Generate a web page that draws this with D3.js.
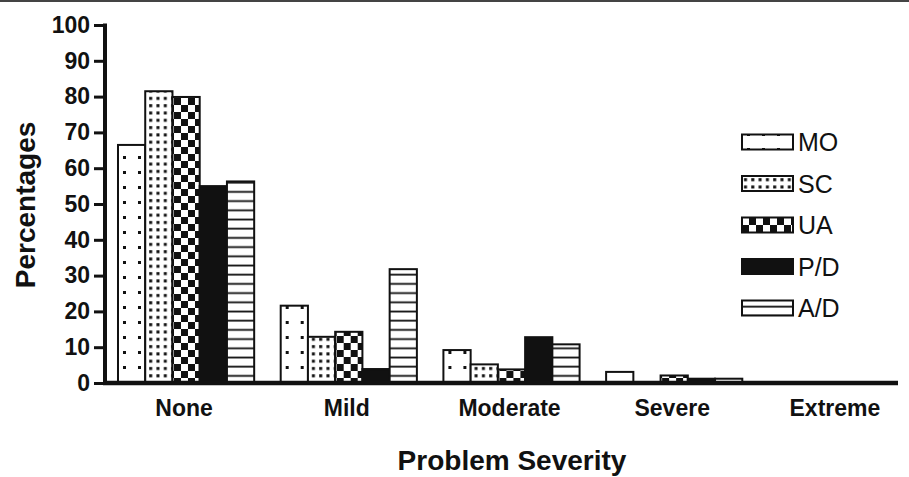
<!DOCTYPE html>
<html>
<head>
<meta charset="utf-8">
<script src="https://cdn.jsdelivr.net/npm/d3@7"></script>
<style>
  html, body { margin: 0; padding: 0; background: #fff; }
  svg { display: block; }
  text { font-family: "Liberation Sans", Arial, Helvetica, sans-serif; fill: #111; }
</style>
</head>
<body>
<svg id="chart" width="909" height="477"></svg>
<script>
// Problem severity categories and group percentages
const categories = ["None", "Mild", "Moderate", "Severe", "Extreme"];
const seriesNames = ["MO", "SC", "UA", "P/D", "A/D"];
const valuesMO = [66.5, 21.6, 9.2, 3.1, 0];
const valuesSC = [81.5, 12.9, 5.2, 0, 0];
const valuesUA = [79.9, 14.3, 3.8, 2.1, 0];
const valuesPD = [55.0, 3.9, 12.8, 1.2, 0];
const valuesAD = [56.3, 31.8, 10.8, 1.2, 0];
const yTicks = [0, 10, 20, 30, 40, 50, 60, 70, 80, 90, 100];

const seriesValues = [valuesMO, valuesSC, valuesUA, valuesPD, valuesAD];
const rows = categories.map((c, i) => ({
  category: c,
  bars: seriesNames.map((s, j) => ({ series: s, value: seriesValues[j][i] }))
}));

const ink = "#111";
const svg = d3.select("#chart");

// Fill patterns for each series
const defs = svg.append("defs");
function pattern(id, size) {
  const p = defs.append("pattern").attr("id", id)
    .attr("patternUnits", "userSpaceOnUse")
    .attr("width", size).attr("height", size);
  p.append("rect").attr("width", size).attr("height", size).attr("fill", "#fff");
  return p;
}
// sparse dots
pattern("pat-mo", 15).append("rect").attr("x", 5).attr("y", 6).attr("width", 3).attr("height", 3).attr("fill", ink);
// dense dots
pattern("pat-sc", 7.3).append("rect").attr("x", 2).attr("y", 2).attr("width", 3).attr("height", 3).attr("fill", ink);
// checkerboard
const ua = pattern("pat-ua", 14);
ua.append("rect").attr("x", 0).attr("y", 0).attr("width", 7).attr("height", 7).attr("fill", ink);
ua.append("rect").attr("x", 7).attr("y", 7).attr("width", 7).attr("height", 7).attr("fill", ink);
// horizontal stripes
pattern("pat-ad", 9.2).append("rect").attr("x", 0).attr("y", 7).attr("width", 9.2).attr("height", 1.8).attr("fill", ink);

const fills = {
  "MO": "url(#pat-mo)",
  "SC": "url(#pat-sc)",
  "UA": "url(#pat-ua)",
  "P/D": ink,
  "A/D": "url(#pat-ad)"
};

// Scales
const y = d3.scaleLinear().domain([0, 100]).range([383, 25]);
const x0 = d3.scaleBand().domain(categories).range([104, 919])
  .paddingInner(0.163).paddingOuter(0.086);
const x1 = d3.scaleBand().domain(seriesNames).range([0, x0.bandwidth()]);

// Frame line at the top edge
svg.append("line").attr("x1", 0).attr("x2", 909).attr("y1", 1).attr("y2", 1)
  .attr("stroke", "#444").attr("stroke-width", 2);

// Bars
const groups = svg.append("g").selectAll("g").data(rows).join("g")
  .attr("transform", d => `translate(${x0(d.category)},0)`);
groups.selectAll("rect").data(d => d.bars.filter(b => b.value > 0)).join("rect")
  .attr("x", d => x1(d.series))
  .attr("y", d => y(d.value))
  .attr("width", x1.bandwidth())
  .attr("height", d => y(0) - y(d.value))
  .attr("fill", d => fills[d.series])
  .attr("stroke", ink)
  .attr("stroke-width", 2);

// Y axis
const yAxis = svg.append("g").attr("transform", "translate(105,0)")
  .call(d3.axisLeft(y).tickValues(yTicks).tickSize(11).tickPadding(4).tickFormat(d3.format("d")));
yAxis.select(".domain").remove();
yAxis.selectAll(".tick line").attr("stroke", ink).attr("stroke-width", 3);
yAxis.selectAll(".tick text")
  .attr("font-size", 23).attr("font-weight", "bold").attr("fill", ink);
svg.append("line").attr("x1", 105).attr("x2", 105).attr("y1", y(100) - 1.5).attr("y2", y(0) + 2)
  .attr("stroke", ink).attr("stroke-width", 4);

// X axis baseline and category labels
svg.append("line").attr("x1", 103).attr("x2", 898).attr("y1", y(0)).attr("y2", y(0))
  .attr("stroke", ink).attr("stroke-width", 4.5);
svg.append("g").selectAll("text").data(categories).join("text")
  .attr("x", d => x0(d) + x0.bandwidth() / 2 - 2)
  .attr("y", 416)
  .attr("text-anchor", "middle")
  .attr("font-size", 23).attr("font-weight", "bold")
  .text(d => d);

// Axis titles
svg.append("text").attr("x", 512).attr("y", 470)
  .attr("text-anchor", "middle").attr("font-size", 28).attr("font-weight", "bold")
  .text("Problem Severity");
svg.append("text").attr("transform", "translate(35,205) rotate(-90)")
  .attr("text-anchor", "middle").attr("font-size", 28).attr("font-weight", "bold")
  .text("Percentages");

// Legend
const legend = svg.append("g").selectAll("g").data(seriesNames).join("g")
  .attr("transform", (d, i) => `translate(742,${142 + i * 41.5})`);
legend.append("rect").attr("x", 0).attr("y", -7.5).attr("width", 51).attr("height", 15)
  .attr("fill", d => fills[d]).attr("stroke", ink).attr("stroke-width", 2);
legend.append("text").attr("x", 56).attr("y", 9)
  .attr("font-size", 25)
  .text(d => d);
</script>
</body>
</html>
